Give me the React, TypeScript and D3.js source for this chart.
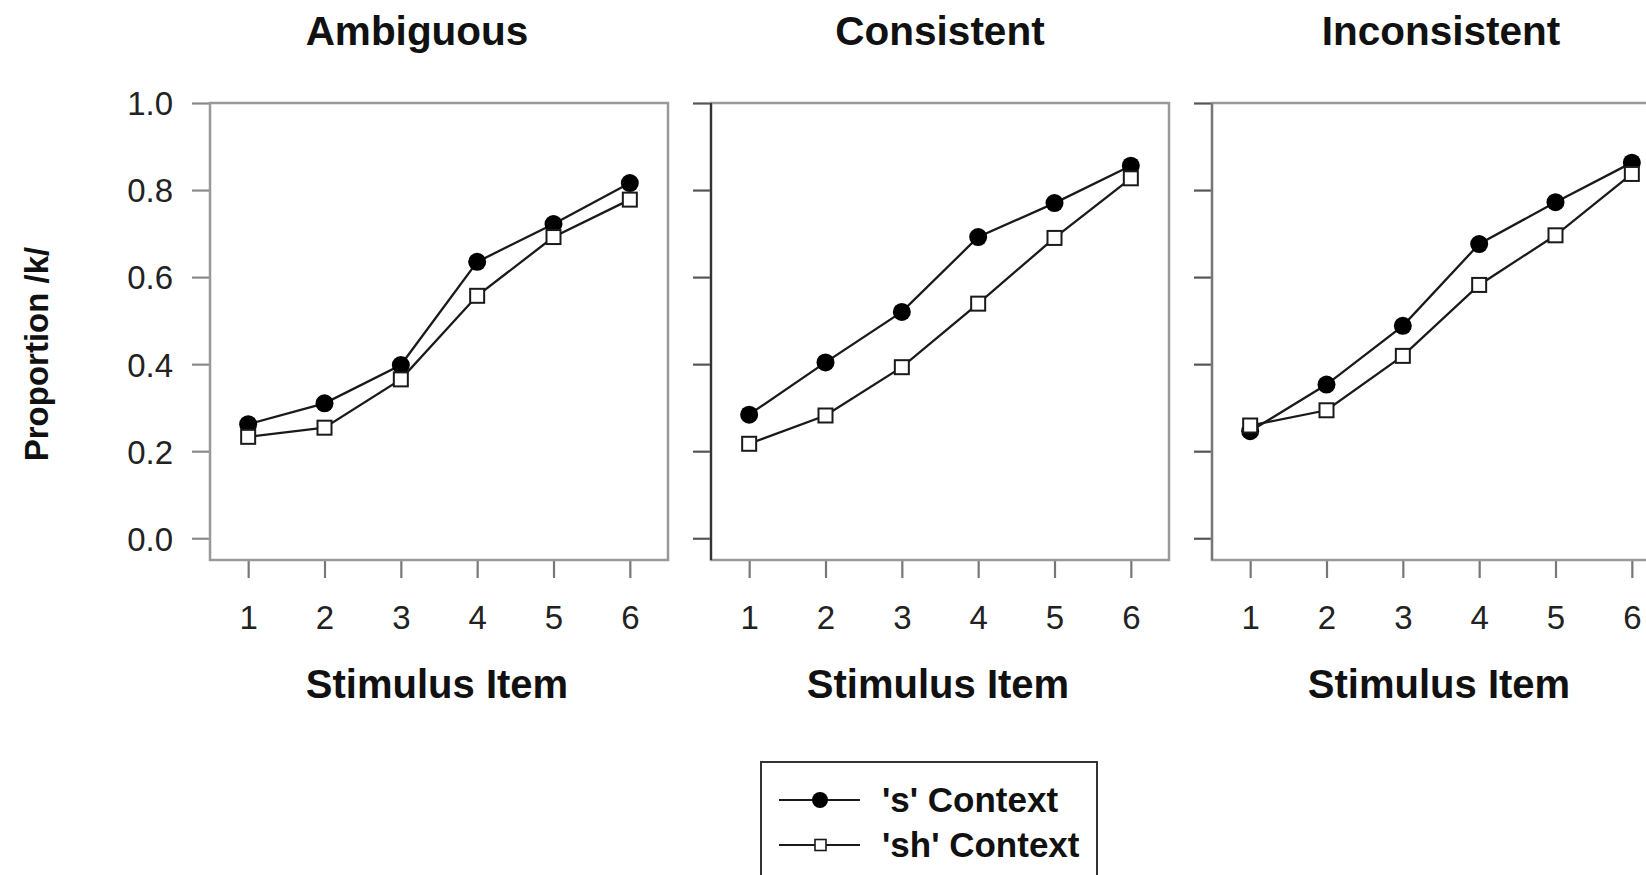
import { useRef, useEffect } from 'react';
import * as d3 from 'd3';

const PANELS = ['Ambiguous', 'Consistent', 'Inconsistent'];
const ITEMS = [1, 2, 3, 4, 5, 6];
const Y_TICKS = [0, 0.2, 0.4, 0.6, 0.8, 1.0];

// proportion /k/ per stimulus item, one array per panel
const S_AMBIGUOUS = [0.262, 0.31, 0.398, 0.635, 0.722, 0.816];
const SH_AMBIGUOUS = [0.233, 0.254, 0.365, 0.557, 0.692, 0.778];
const S_CONSISTENT = [0.284, 0.404, 0.52, 0.692, 0.77, 0.856];
const SH_CONSISTENT = [0.217, 0.282, 0.393, 0.539, 0.69, 0.827];
const S_INCONSISTENT = [0.246, 0.353, 0.488, 0.676, 0.772, 0.863];
const SH_INCONSISTENT = [0.259, 0.294, 0.419, 0.582, 0.696, 0.837];

const S_SERIES = [S_AMBIGUOUS, S_CONSISTENT, S_INCONSISTENT];
const SH_SERIES = [SH_AMBIGUOUS, SH_CONSISTENT, SH_INCONSISTENT];
const LEGEND_LABELS = ["'s' Context", "'sh' Context"];

const FONT = '"Liberation Sans", Arial, Helvetica, sans-serif';
const W = 1646;
const H = 875;

export default function App() {
  const svgRef = useRef<SVGSVGElement | null>(null);

  useEffect(() => {
    if (!svgRef.current) return;
    const svg = d3.select(svgRef.current);
    svg.selectAll('*').remove();

    const left0 = 210;
    const step = 501;
    const panelW = 458;
    const top = 103;
    const bottom = 560;
    const titleDx = [-22, 0, 0];

    const y = d3.scaleLinear().domain([-0.05, 1.0]).range([bottom, top]);

    PANELS.forEach((name, p) => {
      const left = left0 + p * step;
      const x = d3.scaleLinear().domain([0.5, 6.5]).range([left, left + panelW]);
      const g = svg.append('g');

      // y axis ticks (labels only on the first panel)
      const yAxis = g.append('g')
        .attr('transform', `translate(${left},0)`)
        .call(d3.axisLeft(y).tickValues(Y_TICKS).tickSize(18).tickPadding(19)
          .tickFormat(p === 0 ? d3.format('.1f') : () => ''));
      yAxis.select('.domain').remove();
      yAxis.selectAll('line').attr('stroke', p === 0 ? '#8a8a8a' : '#555').attr('stroke-width', 2.2);
      yAxis.selectAll('text')
        .attr('font-family', FONT).attr('font-size', 33).attr('fill', '#222').attr('dy', '0.36em');

      // x axis
      const xAxis = g.append('g')
        .attr('transform', `translate(0,${bottom})`)
        .call(d3.axisBottom(x).tickValues(ITEMS).tickSize(18).tickPadding(28).tickFormat(d3.format('d')));
      xAxis.select('.domain').remove();
      xAxis.selectAll('line').attr('stroke', '#777').attr('stroke-width', 2.2);
      xAxis.selectAll('text')
        .attr('font-family', FONT).attr('font-size', 33).attr('fill', '#222');

      // frame
      g.append('rect')
        .attr('x', left).attr('y', top)
        .attr('width', panelW).attr('height', bottom - top)
        .attr('fill', 'none').attr('stroke', '#999').attr('stroke-width', 2.5);
      if (p > 0) {
        g.append('line')
          .attr('x1', left).attr('x2', left).attr('y1', top).attr('y2', bottom)
          .attr('stroke', p === 1 ? '#333' : '#777').attr('stroke-width', 2.2);
      }

      // titles
      g.append('text')
        .attr('x', (left + left + panelW) / 2 + titleDx[p]).attr('y', 45)
        .attr('text-anchor', 'middle')
        .attr('font-family', FONT).attr('font-weight', 'bold').attr('font-size', 40.5)
        .attr('fill', '#111')
        .text(name);

      g.append('text')
        .attr('x', (left + left + panelW) / 2 - 2).attr('y', 698)
        .attr('text-anchor', 'middle')
        .attr('font-family', FONT).attr('font-weight', 'bold').attr('font-size', 40)
        .attr('fill', '#111')
        .text('Stimulus Item');

      const line = d3.line<number>()
        .x((_, i) => x(ITEMS[i]))
        .y(d => y(d));

      // 'sh' series
      g.append('path').datum(SH_SERIES[p]).attr('d', line)
        .attr('fill', 'none').attr('stroke', '#1a1a1a').attr('stroke-width', 2.3);
      // 's' series
      g.append('path').datum(S_SERIES[p]).attr('d', line)
        .attr('fill', 'none').attr('stroke', '#1a1a1a').attr('stroke-width', 2.3);

      g.selectAll('.sdot').data(S_SERIES[p]).join('circle')
        .attr('cx', (_, i) => x(ITEMS[i])).attr('cy', d => y(d))
        .attr('r', 9).attr('fill', '#000');

      g.selectAll('.shsq').data(SH_SERIES[p]).join('rect')
        .attr('x', (_, i) => x(ITEMS[i]) - 7).attr('y', d => y(d) - 7)
        .attr('width', 14).attr('height', 14)
        .attr('fill', '#fff').attr('stroke', '#1a1a1a').attr('stroke-width', 2);
    });

    // y label
    svg.append('text')
      .attr('transform', 'translate(48,354) rotate(-90)')
      .attr('text-anchor', 'middle')
      .attr('font-family', FONT).attr('font-weight', 'bold').attr('font-size', 33)
      .attr('fill', '#111')
      .text('Proportion /k/');

    // legend
    const lg = svg.append('g');
    lg.append('rect')
      .attr('x', 761).attr('y', 762).attr('width', 336).attr('height', 160)
      .attr('fill', '#fff').attr('stroke', '#333').attr('stroke-width', 2);

    LEGEND_LABELS.forEach((label, i) => {
      const ly = 800 + i * 45;
      lg.append('line')
        .attr('x1', 779).attr('x2', 860).attr('y1', ly).attr('y2', ly)
        .attr('stroke', '#1a1a1a').attr('stroke-width', 2.2);
      if (i === 0) {
        lg.append('circle').attr('cx', 820).attr('cy', ly).attr('r', 8).attr('fill', '#000');
      } else {
        lg.append('rect').attr('x', 815).attr('y', ly - 5.5).attr('width', 11).attr('height', 11)
          .attr('fill', '#fff').attr('stroke', '#1a1a1a').attr('stroke-width', 1.6);
      }
      lg.append('text')
        .attr('x', 882).attr('y', ly + 12)
        .attr('font-family', FONT).attr('font-weight', 'bold').attr('font-size', 35)
        .attr('fill', '#111')
        .text(label);
    });
  }, []);

  return (
    <svg
      ref={svgRef}
      width={W}
      height={H}
      style={{ position: 'absolute', left: 0, top: 0, display: 'block', background: '#fff' }}
    />
  );
}
